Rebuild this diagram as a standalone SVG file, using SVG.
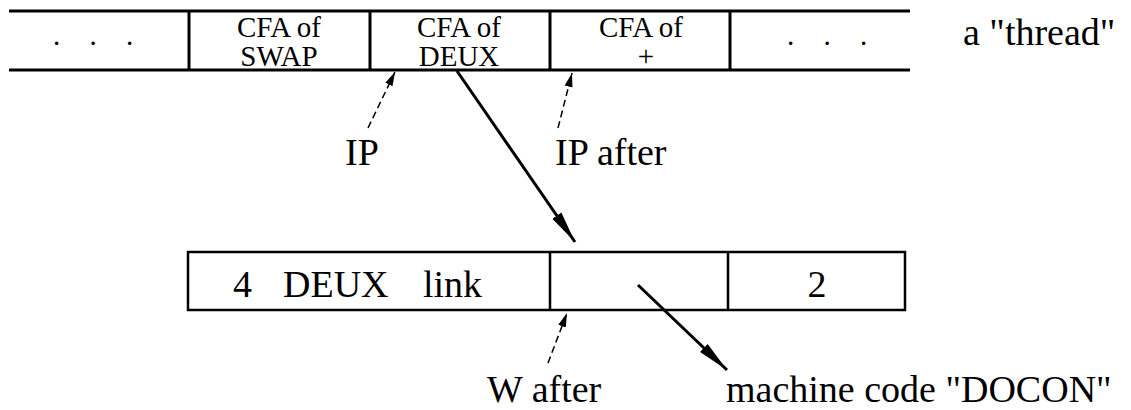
<svg xmlns="http://www.w3.org/2000/svg" width="1131" height="410" viewBox="0 0 1131 410">
<style>
.band{stroke:#000;stroke-width:3;fill:none}
.cell{stroke:#000;stroke-width:2.5;fill:none}
.small{font-family:'Liberation Serif',serif;font-size:29px;fill:#000;text-anchor:middle}
.big{font-family:'Liberation Serif',serif;font-size:38px;fill:#000}
.solid{stroke:#000;stroke-width:3;fill:none}
.dash{stroke:#000;stroke-width:1.5;fill:none;stroke-dasharray:7 4}
</style>
<defs>
<marker id="bigHead" markerUnits="userSpaceOnUse" markerWidth="34" markerHeight="14" refX="32" refY="7" orient="auto">
<path d="M0,1.5 L32,7 L0,12.5 Z" fill="#000"/>
</marker>
<marker id="smallHead" markerUnits="userSpaceOnUse" markerWidth="16" markerHeight="10" refX="14" refY="5" orient="auto">
<path d="M0,1 L14,5 L0,9 Z" fill="#000"/>
</marker>
</defs>
<rect width="1131" height="410" fill="#fff"/>
<g id="thread">
<line class="band" x1="9" y1="11" x2="910" y2="11"/>
<line class="band" x1="9" y1="70" x2="910" y2="70"/>
<line class="band" x1="189" y1="11" x2="189" y2="70"/>
<line class="band" x1="370" y1="11" x2="370" y2="70"/>
<line class="band" x1="550" y1="11" x2="550" y2="70"/>
<line class="band" x1="730" y1="11" x2="730" y2="70"/>
</g>
<g id="cell-dots-left"><text class="small" x="93" y="45" word-spacing="22">. . .</text></g>
<g id="cell-swap"><text class="small" x="279" y="37">CFA of</text><text class="small" x="279" y="66">SWAP</text></g>
<g id="cell-deux"><text class="small" x="459" y="37">CFA of</text><text class="small" x="459" y="66">DEUX</text></g>
<g id="cell-plus"><text class="small" x="641" y="37">CFA of</text><text class="small" x="646" y="66">+</text></g>
<g id="cell-dots-right"><text class="small" x="827" y="45" word-spacing="22">. . .</text></g>
<g id="thread-label"><text class="big" x="963" y="45">a "thread"</text></g>
<g id="header">
<rect class="cell" x="188" y="252" width="717" height="58"/>
<line class="cell" x1="550" y1="252" x2="550" y2="310"/>
<line class="cell" x1="728" y1="252" x2="728" y2="310"/>
<text class="big" x="233" y="297">4</text>
<text class="big" x="283" y="297">DEUX</text>
<text class="big" x="423" y="297">link</text>
<text class="big" x="817" y="297" text-anchor="middle">2</text>
</g>
<g id="labels">
<text class="big" x="345" y="165">IP</text>
<text class="big" x="555" y="165">IP after</text>
<text class="big" x="487" y="402">W after</text>
<text class="big" x="726" y="402">machine code "DOCON"</text>
</g>
<g id="connectors">
<line class="solid" x1="457" y1="71" x2="575" y2="242" marker-end="url(#bigHead)"/>
<line class="solid" x1="638" y1="285" x2="727" y2="370" marker-end="url(#bigHead)"/>
<line class="dash" x1="368" y1="128" x2="395" y2="72" marker-end="url(#smallHead)"/>
<line class="dash" x1="558" y1="128" x2="572" y2="73" marker-end="url(#smallHead)"/>
<line class="dash" x1="548" y1="363" x2="567" y2="313" marker-end="url(#smallHead)"/>
</g>
</svg>
